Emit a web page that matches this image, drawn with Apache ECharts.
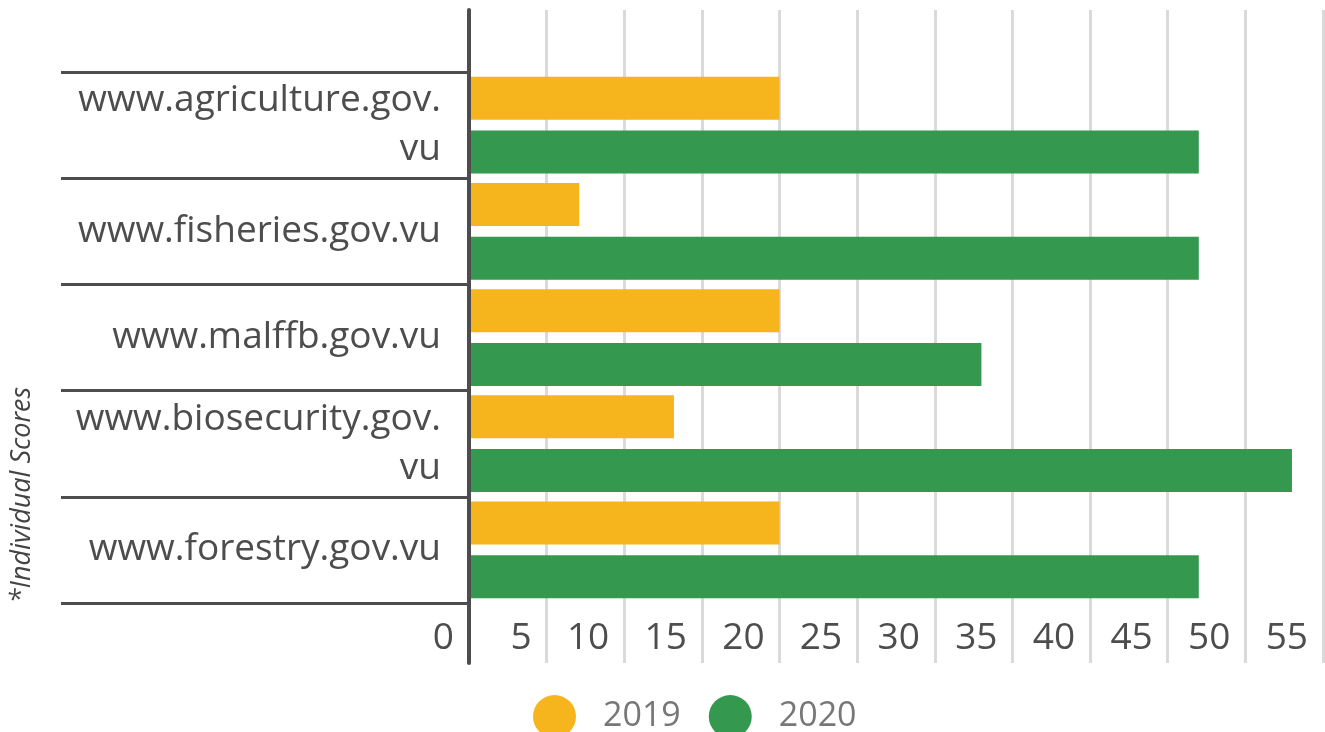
<!DOCTYPE html>
<html><head><meta charset="utf-8">
<script src="https://cdn.jsdelivr.net/npm/echarts@6/dist/echarts.min.js"></script>
<style>html,body{margin:0;padding:0;background:#fff}#c{width:1325px;height:732px}</style>
</head><body><div id="c"></div>
<script>
const categories = ['www.agriculture.gov.vu','www.fisheries.gov.vu','www.malffb.gov.vu','www.biosecurity.gov.vu','www.forestry.gov.vu'];
const seriesNames = ['2019','2020'];
const values2019 = [20, 7.1, 20, 13.2, 20];
const values2020 = [47, 47, 33, 53, 47];
const xMin = 0, xMax = 55, xStep = 5;
const axisTitle = '*Individual Scores';

const FONT = 'Open Sans';
const chart = echarts.init(document.getElementById('c'), null, {renderer:'canvas'});
chart.setOption({
  animation:false,
  color:['#F7B51D','#34984E'],
  textStyle:{fontFamily:FONT},
  grid:[
    {left:469, right:2, top:10, bottom:69},
    {left:469, right:2, top:72, bottom:129}
  ],
  xAxis:[
    {gridIndex:0, type:'value', min:xMin, max:xMax, interval:xStep,
     axisLine:{show:false}, axisTick:{show:false},
     splitLine:{show:true, lineStyle:{color:'#dadada', width:3}},
     axisLabel:{inside:true, margin:25, verticalAlign:'middle', align:'right', padding:[0,15,0,0],
       fontSize:37, color:'#4d4d4d', fontFamily:FONT}},
    {gridIndex:1, type:'value', min:xMin, max:xMax, interval:xStep, show:false}
  ],
  yAxis:[
    {gridIndex:0, type:'value', min:0, max:1, z:10,
     axisLine:{show:true, lineStyle:{color:'#4d4d4d', width:4}},
     axisTick:{show:false}, axisLabel:{show:false}, splitLine:{show:false}},
    {gridIndex:1, type:'category', data:categories, inverse:true,
     axisLine:{show:false},
     axisTick:{show:true, length:408, lineStyle:{color:'#4d4d4d', width:3}},
     axisLabel:{margin:28, fontSize:37, color:'#4d4d4d', fontFamily:FONT, lineHeight:49, align:'right',
       formatter: v => v.length > 20 ? v.replace(/vu$/, '\nvu') : v}}
  ],
  legend:{left:528, top:690, icon:'circle', itemWidth:43, itemHeight:43, itemGap:28,
    textStyle:{fontSize:34, color:'#777777', fontFamily:FONT, padding:[0,0,0,22]},
    data:seriesNames},
  series:[
    {name:seriesNames[0], type:'bar', xAxisIndex:1, yAxisIndex:1, data:values2019, barWidth:43, barGap:'25%'},
    {name:seriesNames[1], type:'bar', xAxisIndex:1, yAxisIndex:1, data:values2020, barWidth:43, barGap:'25%'}
  ],
  graphic:[
    {type:'text', x:22, y:495, rotation:Math.PI/2,
     style:{text:axisTitle, fontSize:27, fontStyle:'italic', fill:'#444444', fontFamily:FONT,
       align:'center', verticalAlign:'middle'}}
  ]
});
</script></body></html>
